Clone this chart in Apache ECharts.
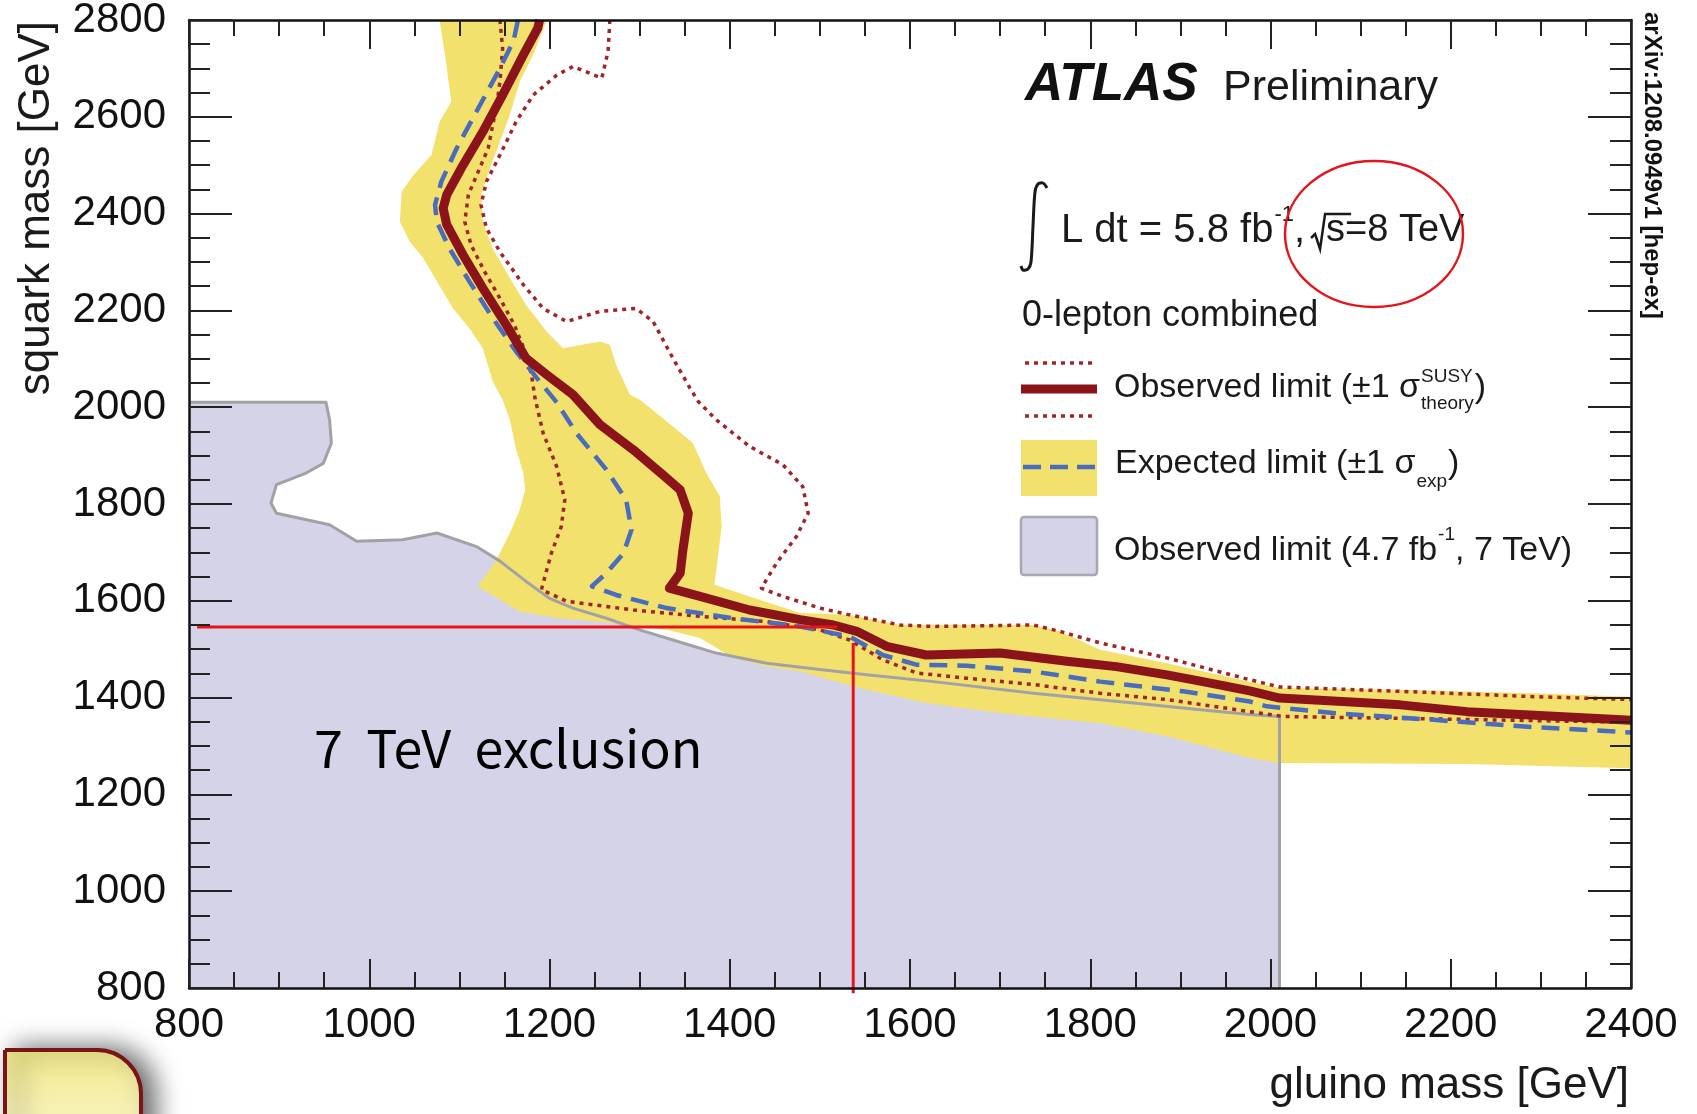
<!DOCTYPE html>
<html>
<head>
<meta charset="utf-8">
<script src="https://cdn.jsdelivr.net/npm/echarts@6/dist/echarts.min.js"></script>
<style>
html,body{margin:0;padding:0;background:#ffffff;}
#c{width:1697px;height:1114px;}
</style>
</head>
<body>
<div id="c"></div>
<script>
// ---------------- data (gluino mass, squark mass) in GeV ----------------
const xTicks = [800, 1000, 1200, 1400, 1600, 1800, 2000, 2200, 2400];
const yTicks = [800, 1000, 1200, 1400, 1600, 1800, 2000, 2200, 2400, 2600, 2800];

// observed limit (solid dark red)
const observed = [[1189,2800],[1187,2783],[1171,2728],[1148,2645],[1126,2569],[1104,2500],[1086,2439],[1082,2411],[1086,2377],[1104,2315],[1126,2246],[1152,2170],[1174,2101],[1197,2067],[1226,2026],[1256,1964],[1293,1912],[1326,1860],[1345,1829],[1354,1781],[1348,1705],[1345,1657],[1333,1626],[1367,1609],[1422,1581],[1478,1561],[1515,1550],[1541,1537],[1574,1506],[1618,1488],[1700,1492],[1774,1475],[1829,1464],[1885,1447],[1922,1434],[1977,1414],[2010,1399],[2144,1385],[2218,1371],[2400,1353]];

// observed +1 sigma theory (outer dotted)
const obsUp = [[1267,2800],[1265,2735],[1258,2680],[1226,2704],[1208,2686],[1182,2645],[1163,2590],[1145,2521],[1130,2466],[1124,2418],[1130,2370],[1145,2321],[1171,2253],[1193,2204],[1219,2177],[1256,2198],[1296,2204],[1315,2177],[1337,2101],[1356,2039],[1365,2012],[1385,1974],[1422,1919],[1459,1881],[1481,1836],[1487,1781],[1474,1733],[1452,1678],[1435,1626],[1459,1609],[1500,1585],[1533,1571],[1589,1550],[1626,1547],[1737,1550],[1766,1537],[1811,1513],[1885,1482],[1977,1437],[2010,1422],[2144,1413],[2292,1402],[2400,1396]];

// observed -1 sigma theory (inner dotted)
const obsDown = [[1145,2800],[1148,2741],[1145,2673],[1141,2618],[1137,2583],[1132,2535],[1121,2487],[1110,2439],[1106,2383],[1113,2335],[1128,2280],[1145,2225],[1161,2170],[1173,2115],[1180,2067],[1184,2018],[1193,1946],[1208,1877],[1217,1809],[1213,1753],[1202,1698],[1191,1623],[1219,1599],[1293,1581],[1367,1568],[1441,1557],[1500,1540],[1533,1519],[1570,1478],[1607,1451],[1663,1440],[1737,1427],[1811,1409],[1885,1396],[1977,1371],[2014,1361],[2181,1356],[2400,1349]];

// expected limit (blue dashed)
const expected = [[1165,2800],[1160,2756],[1141,2686],[1119,2611],[1097,2535],[1080,2466],[1073,2418],[1075,2383],[1089,2328],[1111,2260],[1137,2184],[1163,2115],[1186,2060],[1208,2010],[1230,1946],[1263,1871],[1285,1809],[1291,1747],[1282,1698],[1263,1657],[1247,1630],[1274,1612],[1330,1585],[1404,1564],[1478,1547],[1533,1526],[1570,1488],[1607,1468],[1663,1466],[1737,1454],[1811,1433],[1903,1413],[1977,1392],[1996,1382],[2070,1368],[2181,1354],[2292,1339],[2400,1328]];

// expected +-1 sigma band (yellow), closed outline
const expBand = [[1078,2800],[1084,2728],[1091,2631],[1078,2590],[1069,2521],[1049,2480],[1036,2445],[1034,2383],[1045,2342],[1060,2308],[1075,2260],[1093,2204],[1111,2163],[1126,2122],[1137,2053],[1148,2015],[1156,1974],[1163,1912],[1171,1864],[1173,1829],[1167,1788],[1156,1740],[1145,1699],[1134,1664],[1120,1630],[1145,1602],[1167,1578],[1211,1564],[1256,1557],[1293,1547],[1330,1540],[1367,1523],[1404,1482],[1441,1464],[1478,1454],[1552,1416],[1618,1389],[1700,1368],[1811,1347],[1885,1320],[1977,1275],[2010,1265],[2218,1263],[2400,1254],[2400,1402],[2292,1409],[2144,1416],[2010,1420],[1977,1433],[1885,1471],[1811,1499],[1766,1537],[1737,1550],[1589,1550],[1533,1571],[1478,1575],[1422,1609],[1383,1633],[1387,1692],[1391,1753],[1389,1816],[1374,1864],[1359,1926],[1337,1960],[1300,2016],[1289,2026],[1274,2087],[1267,2129],[1256,2136],[1215,2122],[1197,2156],[1174,2211],[1156,2267],[1137,2328],[1126,2383],[1124,2439],[1134,2494],[1145,2549],[1156,2604],[1167,2673],[1182,2728],[1197,2800]];

// 7 TeV observed limit (lavender), closed outline
const limit7TeV = [[800,800],[800,2010],[952,2010],[956,1974],[958,1926],[949,1884],[930,1864],[897,1840],[891,1802],[897,1781],[956,1757],[986,1723],[1037,1726],[1075,1740],[1119,1712],[1145,1682],[1174,1640],[1200,1605],[1226,1585],[1263,1564],[1300,1540],[1337,1519],[1385,1492],[1441,1471],[1500,1458],[1552,1447],[1626,1433],[1737,1409],[1848,1389],[1922,1375],[1977,1365],[2010,1361],[2010,800]];

// red guide lines drawn on the slide
const guideHX = [809, 1519];
const guideHY = [1546, 1546];
const guideVX = [1537, 1537];
const guideVY = [1513, 789];

// ---------------- styling ----------------
const FONT = '"Liberation Sans", Arial, Helvetica, sans-serif';
const C_YELLOW = '#f3e16d';
const C_LAV = '#d4d3e8';
const C_RED = '#8b141a';
const C_DOT = '#a0242a';
const C_BLUE = '#4a6cbd';
const C_GRAY = '#a2a2a6';

const mctx = document.createElement('canvas').getContext('2d');
function tw(text, size, weight, style, family) {
  mctx.font = (style || 'normal') + ' ' + (weight || 'normal') + ' ' + size + 'px ' + (family || FONT);
  return mctx.measureText(text).width;
}

function polygonSeries(name, pts, fill, z) {
  return {
    type: 'custom', name: name, data: pts, z: z, silent: true,
    encode: {x: 0, y: 1},
    renderItem: function (params, api) {
      if (params.dataIndex !== 0) return null;
      const points = pts.map(function (p) { return api.coord(p); });
      return {type: 'polygon', shape: {points: points}, style: {fill: fill, stroke: null}};
    }
  };
}
function lineSeries(name, pts, color, width, type, z, clip) {
  return {
    type: 'line', name: name, data: pts, showSymbol: false, symbol: 'none', z: z,
    silent: true, clip: clip !== false,
    lineStyle: {color: color, width: width, type: type, cap: 'butt', join: 'round'}
  };
}

function axisBase(min, max, majorLen, minorLen) {
  return {
    type: 'value', min: min, max: max, interval: 200, z: 10,
    axisLine: {show: true, onZero: false, lineStyle: {color: '#111', width: 2.5}},
    axisTick: {show: true, inside: true, length: majorLen, lineStyle: {color: '#222', width: 2}},
    minorTick: {show: true, splitNumber: 4, length: minorLen, lineStyle: {color: '#222', width: 2}},
    splitLine: {show: false}, minorSplitLine: {show: false}
  };
}
const labelStyle = {color: '#111', fontSize: 42, fontFamily: FONT, showMinLabel: true, showMaxLabel: true,
  formatter: function (v) { return String(v); }};

const xBottom = Object.assign(axisBase(xTicks[0], xTicks[xTicks.length - 1], 29, 16), {position: 'bottom',
  axisLabel: Object.assign({margin: 16}, labelStyle)});
const xTop = Object.assign(axisBase(xTicks[0], xTicks[xTicks.length - 1], 29, 16), {position: 'top', axisLabel: {show: false}});
const yLeft = Object.assign(axisBase(yTicks[0], yTicks[yTicks.length - 1], 43, 21), {position: 'left',
  axisLabel: Object.assign({margin: 23}, labelStyle)});
const yRight = Object.assign(axisBase(yTicks[0], yTicks[yTicks.length - 1], 43, 21), {position: 'right', axisLabel: {show: false}});

// ---------------- graphic texts (legend, labels, annotations) ----------------
const g = [];
function txt(x, y, text, size, extra) {
  const st = Object.assign({text: text, fontSize: size, fontFamily: FONT, fill: '#1a1a1a', align: 'left', verticalAlign: 'middle'}, extra || {});
  g.push({type: 'text', x: x, y: y, z: 100, silent: true, style: st});
  return tw(text, size, st.fontWeight, st.fontStyle, st.fontFamily);
}

// axis titles
g.push({type: 'text', x: 37, y: 21, rotation: Math.PI / 2, z: 100, silent: true,
  style: {text: 'squark mass [GeV]', fontSize: 44, fontFamily: FONT, fill: '#1a1a1a', align: 'right', verticalAlign: 'middle'}});
txt(1629, 1086, 'gluino mass [GeV]', 44, {align: 'right'});

// ATLAS Preliminary
txt(1025, 85, 'ATLAS', 53, {fontWeight: 'bold', fontStyle: 'italic', fill: '#111'});
txt(1223, 88, 'Preliminary', 43);

// integral sign
g.push({type: 'polyline', z: 100, silent: true,
  shape: {points: [[1047, 188], [1043, 183], [1038, 184], [1035, 192], [1033, 226], [1031, 262], [1028, 269], [1023, 270], [1021, 266]], smooth: 0.3},
  style: {fill: null, stroke: '#1a1a1a', lineWidth: 3}});
let lx = 1061;
lx += txt(lx, 231, 'L dt = 5.8 fb', 40);
lx += 1;
lx += txt(lx, 215, '-1', 22);
lx += txt(lx, 231, ',', 40);
const sx = lx + 12;
g.push({type: 'polyline', z: 100, silent: true,
  shape: {points: [[sx - 6, 238], [sx - 2, 234], [sx + 3, 249], [sx + 8, 214], [sx + 34, 214]]},
  style: {stroke: '#1a1a1a', lineWidth: 2.5, fill: null}});
txt(sx + 9, 231, 's=8 TeV', 38);

txt(1022, 316, '0-lepton combined', 36);

// legend entry 1: observed
g.push({type: 'line', z: 100, silent: true, shape: {x1: 1025, y1: 363, x2: 1097, y2: 363}, style: {stroke: C_DOT, lineWidth: 3.5, lineDash: [4, 5]}});
g.push({type: 'line', z: 100, silent: true, shape: {x1: 1021, y1: 389, x2: 1097, y2: 389}, style: {stroke: C_RED, lineWidth: 9}});
g.push({type: 'line', z: 100, silent: true, shape: {x1: 1025, y1: 416, x2: 1097, y2: 416}, style: {stroke: C_DOT, lineWidth: 3.5, lineDash: [4, 5]}});
let ex = 1114;
ex += txt(ex, 388, 'Observed limit (\u00b11 \u03c3', 34);
ex += 1;
const w1 = Math.max(txt(ex, 377, 'SUSY', 19), txt(ex, 404, 'theory', 19));
txt(ex + w1 + 1, 388, ')', 34);

// legend entry 2: expected
g.push({type: 'rect', z: 100, silent: true, shape: {x: 1021, y: 440, width: 76, height: 56}, style: {fill: C_YELLOW}});
g.push({type: 'line', z: 101, silent: true, shape: {x1: 1023, y1: 467, x2: 1097, y2: 467}, style: {stroke: C_BLUE, lineWidth: 4.5, lineDash: [18, 9]}});
ex = 1115;
ex += txt(ex, 464, 'Expected limit (\u00b11 \u03c3', 34);
ex += 1;
ex += txt(ex, 482, 'exp', 19);
txt(ex + 1, 464, ')', 34);

// legend entry 3: 7 TeV
g.push({type: 'rect', z: 100, silent: true, shape: {x: 1021, y: 517, width: 76, height: 58, r: 3}, style: {fill: C_LAV, stroke: '#a8a8b2', lineWidth: 2.5}});
ex = 1114;
ex += txt(ex, 551, 'Observed limit (4.7 fb', 34);
ex += 1;
ex += txt(ex, 535, '-1', 19);
txt(ex, 551, ', 7 TeV)', 34);

// arXiv stamp
g.push({type: 'text', x: 1652, y: 12, rotation: -Math.PI / 2, z: 100, silent: true,
  style: {text: 'arXiv:1208.0949v1 [hep-ex]', fontSize: 24, fontWeight: 'bold', fontFamily: FONT, fill: '#111', align: 'left', verticalAlign: 'middle'}});

// slide annotations
g.push({type: 'ellipse', z: 110, silent: true, shape: {cx: 1374, cy: 234, rx: 89, ry: 73}, style: {fill: null, stroke: '#e3141b', lineWidth: 2.5}});
txt(314, 748, '7  TeV  exclusion', 52, {fontFamily: '"Noto Sans CJK KR", "Noto Sans", sans-serif', fontWeight: 'normal', fill: '#000'});

// decorative slide box at bottom-left
g.push({type: 'rect', z: 90, silent: true,
  shape: {x: 5, y: 1050, width: 136, height: 120, r: [0, 44, 0, 0]},
  style: {fill: new echarts.graphic.LinearGradient(0, 0, 0, 1, [{offset: 0, color: '#f2e98a'}, {offset: 1, color: '#fbf8df'}]),
    stroke: '#7a1418', lineWidth: 4, shadowBlur: 26, shadowColor: 'rgba(0,0,0,0.6)', shadowOffsetX: 12, shadowOffsetY: 0}});

// ---------------- chart ----------------
const chart = echarts.init(document.getElementById('c'), null, {renderer: 'canvas', width: 1697, height: 1114});
chart.setOption({
  animation: false,
  backgroundColor: '#ffffff',
  grid: {left: 189, right: 66, top: 20, bottom: 126, containLabel: false, outerBoundsMode: 'none'},
  xAxis: [xBottom, xTop],
  yAxis: [yLeft, yRight],
  series: [
    polygonSeries('7 TeV limit', limit7TeV, C_LAV, 1),
    polygonSeries('Expected band', expBand, C_YELLOW, 2),
    lineSeries('7 TeV outline', limit7TeV.slice(1), C_GRAY, 3, 'solid', 3),
    lineSeries('Observed +1sigma', obsUp, C_DOT, 3.5, [4, 5], 4),
    lineSeries('Observed -1sigma', obsDown, C_DOT, 3.5, [4, 5], 4),
    lineSeries('Expected', expected, C_BLUE, 4.5, [18, 10], 5),
    lineSeries('Observed', observed, C_RED, 9, 'solid', 6),
    lineSeries('Guide H', guideHX.map(function (x, i) { return [x, guideHY[i]]; }), '#e8141b', 3, 'solid', 7, false),
    lineSeries('Guide V', guideVX.map(function (x, i) { return [x, guideVY[i]]; }), '#e8141b', 3, 'solid', 7, false)
  ],
  graphic: g
});
</script>
</body>
</html>
